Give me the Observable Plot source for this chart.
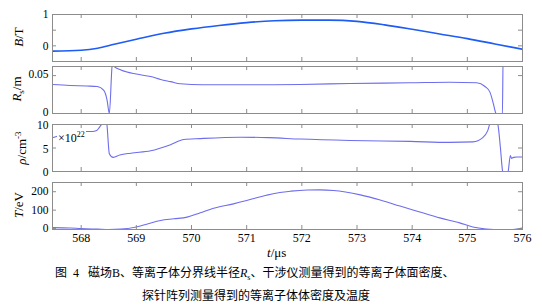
<!DOCTYPE html>
<html><head><meta charset="utf-8">
<script src="https://cdn.jsdelivr.net/npm/d3@7"></script>
<script src="https://cdn.jsdelivr.net/npm/@observablehq/plot@0.6"></script>
<style>
body{margin:0;background:#fff;}
#chart{position:relative;width:542px;height:307px;font-family:"Liberation Serif","Noto Sans CJK SC",serif;color:#000;overflow:hidden;}
#chart svg{position:absolute;left:0;}
.ylab{position:absolute;transform:translate(-50%,-50%) rotate(-90deg);white-space:nowrap;font-size:13px;line-height:1;}
.ylab sub,.ylab sup{font-size:9px;}
.abs{position:absolute;white-space:nowrap;line-height:1;}
</style></head><body><div id="chart"></div>
<script>
const xDomain = [567.48, 576];
const xTicks = [568, 569, 570, 571, 572, 573, 574, 575, 576];

// Magnetic field B (T)
const bTime = [567.48, 568, 568.3, 568.6, 569, 569.5, 570, 570.5, 571, 571.5, 572, 572.5, 573, 573.5, 574, 574.5, 575, 575.5, 576];
const bValues = [-0.17, -0.14, -0.075, 0.05, 0.21, 0.40, 0.54, 0.65, 0.74, 0.80, 0.82, 0.82, 0.78, 0.67, 0.53, 0.38, 0.23, 0.06, -0.11];

// Separatrix radius Rs (m)
const rsTime = [567.48, 567.8, 568.1, 568.29, 568.41, 568.47, 568.51, 568.565, 568.585, 568.6, 568.72, 569.0, 569.26, 569.44, 569.62, 569.8, 570.2, 570.88, 571.5, 571.97, 572.87, 573.96, 574.68, 575.17, 575.32, 575.41, 575.47, 575.52, 575.6, 575.635, 575.65, 576];
const rsValues = [0.0383, 0.037, 0.0362, 0.0356, 0.0304, 0.0174, 0.0, 0.066, 0.068, 0.0617, 0.0574, 0.052, 0.0487, 0.0448, 0.042, 0.0392, 0.038, 0.0379, 0.038, 0.0383, 0.0396, 0.0405, 0.0413, 0.0405, 0.0356, 0.0282, 0.0134, 0.0, -0.003, -0.003, 0.08, 0.08];

// Density (x10^22 cm^-3)
const rhoTime = [567.48, 567.9, 568.0, 568.2, 568.28, 568.33, 568.38, 568.42, 568.46, 568.51, 568.58, 568.7, 568.9, 569.26, 569.62, 569.86, 570.16, 570.88, 571.4, 571.97, 572.87, 573.96, 574.68, 575.1, 575.28, 575.37, 575.42, 575.5, 575.55, 575.6, 575.64, 575.66, 575.72, 575.74, 575.78, 575.8, 575.84, 575.9, 576];
const rhoValues = [7.2, 8.4, 8.5, 8.5, 8.7, 9.4, 10.2, 11, 10.5, 3.8, 3.0, 3.5, 3.9, 4.4, 5.7, 6.8, 7.0, 7.3, 7.2, 6.9, 6.6, 6.4, 6.2, 6.3, 7.2, 8.7, 10.5, 11, 10.2, 5, 0, -0.5, -0.5, 0, 3.4, 2.8, 3.0, 3.1, 3.1];

// Temperature (eV)
const teTime = [567.48, 567.8, 568.0, 568.3, 568.5, 568.72, 569.0, 569.2, 569.44, 569.68, 569.92, 570.16, 570.4, 570.76, 571.0, 571.36, 571.6, 571.8, 572.1, 572.33, 572.57, 573.06, 573.42, 573.78, 574.14, 574.5, 574.86, 575.1, 575.34, 575.58, 575.83, 576];
const teValues = [5, 3, 0, -3, -5, -3, 9, 25, 44, 53, 62, 86, 110, 134, 152, 181, 196, 203, 209, 210, 207, 183, 155, 122, 90, 58, 31, 9, -2, -6, -5, 3];

const bTicks = [1, 0.5, 0], bLabels = [1, 0];
const rsTicks = [0.05, 0], rsLabels = [0.05, 0];
const rhoTicks = [10, 5, 0], rhoLabels = [10, 5, 0];
const teTicks = [200, 100, 0], teLabels = [200, 100, 0];

const chart = document.getElementById("chart");
const H = 47, ML = 52, MR = 20, W = 542;
const innerW = W - ML - MR;
const gray = "#8c8c8c";

function panel({top, time, values, yDomain, yTicks, yLabels, color, sw, xAxis, labelDy = 0}) {
  const mt = 8, mb = xAxis ? 30 : 8;
  const data = time.map((t, i) => ({t, v: values[i]}));
  const svg = Plot.plot({
    width: W, height: H + mt + mb,
    marginLeft: ML, marginRight: MR, marginTop: mt, marginBottom: mb,
    x: xAxis ? {domain: xDomain} : {domain: xDomain, axis: null},
    y: {domain: yDomain},
    style: {fontFamily: "Liberation Serif, serif", fontSize: "12px", color: "#000", background: "transparent", overflow: "visible"},
    marks: [
      Plot.line(data, {x: "t", y: "v", stroke: color, strokeWidth: sw, curve: "monotone-x", clip: true}),
      Plot.frame({stroke: gray}),
      Plot.tickX(xTicks, {x: d => d, stroke: gray, insetTop: H - 4}),
      Plot.tickX(xTicks, {x: d => d, stroke: gray, insetBottom: H - 4}),
      Plot.tickY(yTicks, {y: d => d, stroke: gray, insetRight: innerW - 4}),
      Plot.tickY(yTicks, {y: d => d, stroke: gray, insetLeft: innerW - 4}),
      Plot.axisY(yLabels, {tickSize: 0, tickPadding: 4, label: null, tickFormat: d => String(d), fill: "#000", fontSize: 11.5, dy: labelDy}),
      xAxis ? Plot.axisX(xTicks, {tickSize: 0, tickPadding: 4, label: null, tickFormat: d => String(d), fill: "#000"}) : null
    ]
  });
  svg.style.top = (top - mt) + "px";
  chart.appendChild(svg);
}

panel({top: 14, time: bTime, values: bValues, yDomain: [-0.5, 1], yTicks: bTicks, yLabels: bLabels, color: "#1e5cf5", sw: 1.6});
panel({top: 66, time: rsTime, values: rsValues, yDomain: [0, 0.062], yTicks: rsTicks, yLabels: rsLabels, color: "#6d6ded", sw: 1.1, labelDy: -1.5});
panel({top: 124, time: rhoTime, values: rhoValues, yDomain: [0, 10], yTicks: rhoTicks, yLabels: rhoLabels, color: "#6d6ded", sw: 1.1, labelDy: 1});
panel({top: 182, time: teTime, values: teValues, yDomain: [-5, 250], yTicks: teTicks, yLabels: teLabels, color: "#6d6ded", sw: 1.1, xAxis: true});

function addHTML(cls, html, left, top, extra) {
  const d = document.createElement("div");
  d.className = cls;
  d.innerHTML = html;
  d.style.left = left + "px";
  d.style.top = top + "px";
  if (extra) Object.assign(d.style, extra);
  chart.appendChild(d);
  return d;
}
addHTML("ylab", "<i>B</i>/T", 18, 37);
addHTML("ylab", "<i>R</i><sub>s</sub>/m", 18, 89);
addHTML("ylab", "<i>ρ</i>/cm<sup>-3</sup>", 21, 148);
addHTML("ylab", "<i>T</i>/eV", 18, 205);
addHTML("abs", "×10<sup style='font-size:8px'>22</sup>", 57, 131, {fontSize: "12px", background: "#fff", padding: "0 1px"});
addHTML("abs", "<i>t</i>/μs", 267, 246, {fontSize: "13px"});
addHTML("abs", "图&nbsp;&nbsp;4&nbsp;&nbsp;&nbsp;磁场B、等离子体分界线半径<i>R</i><sub style='font-size:8px'>s</sub>、干涉仪测量得到的等离子体面密度、", 55, 267, {fontSize: "12px"});
addHTML("abs", "探针阵列测量得到的等离子体体密度及温度", 142, 290, {fontSize: "12px"});
</script>
</body></html>
